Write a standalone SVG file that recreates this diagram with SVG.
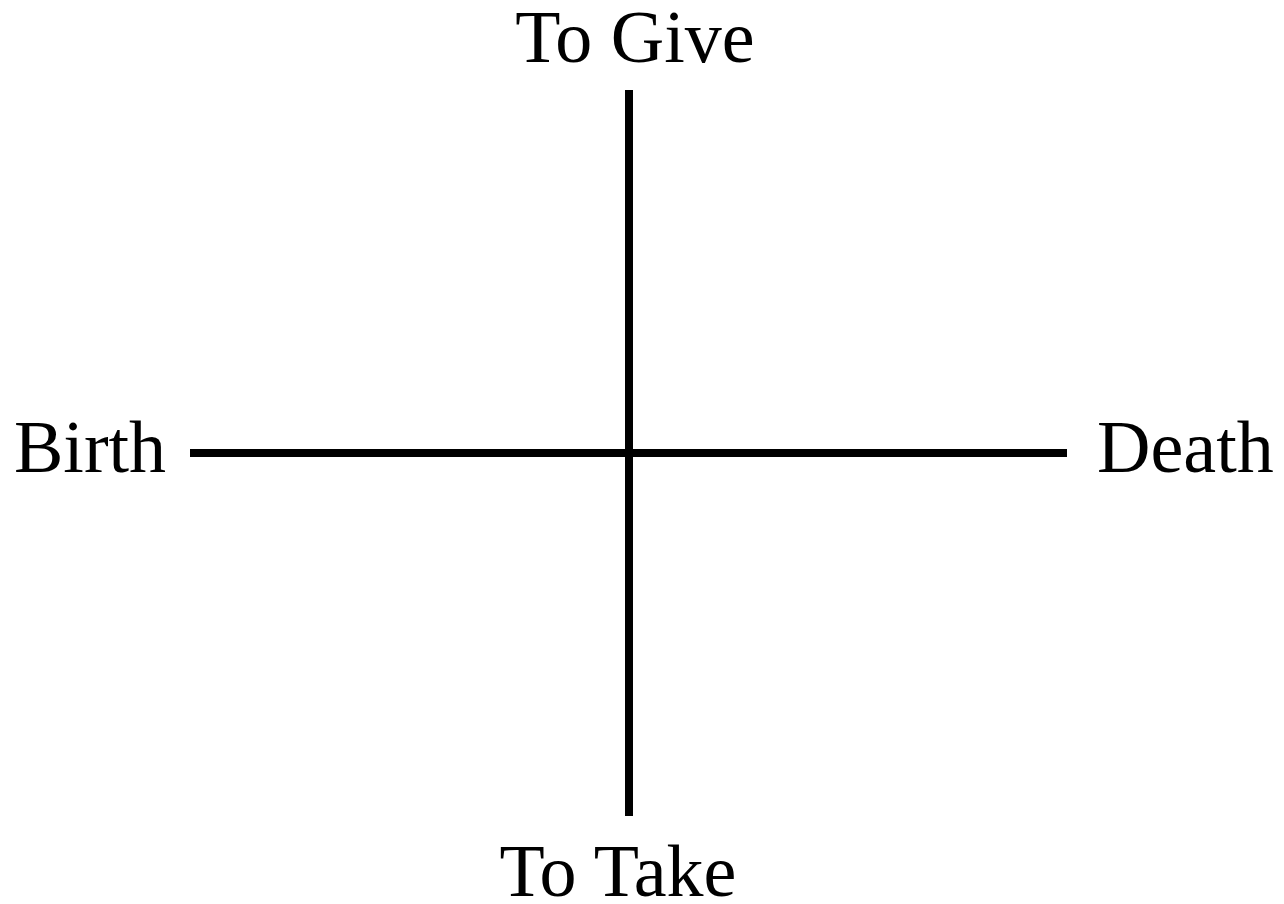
<svg xmlns="http://www.w3.org/2000/svg" width="1284" height="904" viewBox="0 0 1284 904">
<style>
.lbl{font-family:"Liberation Serif","Times New Roman",serif;font-size:74px;fill:#000}
.ax{stroke:#000;stroke-width:8;fill:none}
</style>
<rect width="1284" height="904" fill="#fff"/>
<g id="connectors">
<line class="ax" x1="629" y1="90" x2="629" y2="816"/>
<line class="ax" x1="190" y1="453" x2="1067" y2="453"/>
</g>
<g id="node-give"><text class="lbl" x="635" y="62" text-anchor="middle">To Give</text></g>
<g id="node-take"><text class="lbl" x="618" y="896" text-anchor="middle">To Take</text></g>
<g id="node-birth"><text class="lbl" x="14" y="472">Birth</text></g>
<g id="node-death"><text class="lbl" x="1097" y="472">Death</text></g>
</svg>
